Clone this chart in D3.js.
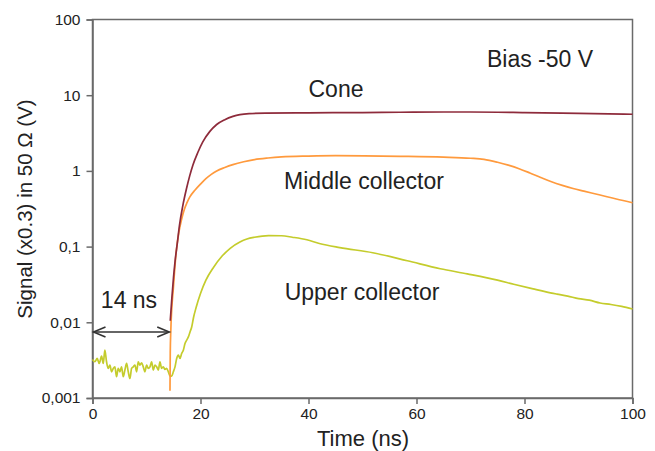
<!DOCTYPE html>
<html>
<head>
<meta charset="utf-8">
<script src="https://cdn.jsdelivr.net/npm/d3@7"></script>
<style>
  html, body { margin: 0; padding: 0; background: #fff; }
  svg text { font-family: "Liberation Sans", Arial, sans-serif; fill: #222; }
</style>
</head>
<body>
<svg id="chart" width="655" height="451"></svg>
<script>
// ---- data ----
const xTicks = [0, 20, 40, 60, 80, 100];
const yTicks = [0.001, 0.01, 0.1, 1, 10, 100];
const yTickLabels = ["0,001", "0,01", "0,1", "1", "10", "100"];

// Cone (time ns, signal V)
const coneT = [14.4, 14.7, 15.0, 15.3, 15.7, 16.1, 16.7, 17.4, 18.0, 18.6, 19.5, 20.4, 21.7, 23.0, 24.5, 26.0, 27.3, 29.0, 32.0, 40.0, 50.0, 57.0, 65.0, 70.0, 80.0, 90.0, 100.0];
const coneV = [0.0105, 0.021, 0.039, 0.065, 0.11, 0.19, 0.34, 0.58, 0.86, 1.2, 1.75, 2.4, 3.3, 4.1, 4.75, 5.25, 5.55, 5.72, 5.8, 5.85, 5.9, 5.95, 6.0, 6.0, 5.9, 5.75, 5.6];

// Middle collector
const middleT = [14.35, 14.4, 14.5, 15.0, 15.5, 16.0, 16.5, 17.0, 17.5, 18.0, 19.0, 20.0, 21.0, 22.0, 23.0, 24.5, 26.0, 28.0, 30.0, 32.5, 35.0, 40.0, 45.0, 57.0, 65.0, 70.0, 72.5, 75.0, 77.0, 79.0, 81.0, 83.0, 85.0, 87.0, 89.0, 91.0, 94.0, 97.0, 100.0];
const middleV = [0.00125, 0.004, 0.0077, 0.03, 0.085, 0.155, 0.23, 0.31, 0.38, 0.45, 0.56, 0.67, 0.79, 0.90, 1.0, 1.11, 1.21, 1.32, 1.41, 1.48, 1.53, 1.57, 1.59, 1.56, 1.52, 1.47, 1.42, 1.3, 1.19, 1.07, 0.94, 0.82, 0.72, 0.645, 0.585, 0.54, 0.48, 0.425, 0.38];

// Upper collector
const upperT = [0.00, 0.44, 0.87, 1.24, 1.68, 1.99, 2.29, 2.60, 2.91, 3.22, 3.53, 3.84, 4.15, 4.45, 4.76, 5.07, 5.38, 5.69, 6.00, 6.31, 6.62, 6.93, 7.24, 7.55, 7.86, 8.17, 8.47, 8.78, 9.09, 9.40, 9.71, 10.02, 10.33, 10.64, 10.95, 11.26, 11.57, 11.88, 12.19, 12.49, 12.80, 13.11, 13.42, 13.73, 14.04, 14.35, 14.66, 14.97, 15.28, 15.59, 15.90, 16.20, 16.51, 16.82, 17.13, 17.44, 17.75, 18.06, 18.37, 18.7, 19.2, 20.0, 21.0, 22.4, 24.0, 25.5, 27.3, 28.6, 30.0, 32.6, 35.0, 37.0, 39.7, 42.0, 45.8, 51.9, 58.3, 64.4, 69.4, 75.0, 78.0, 81.6, 84.0, 86.0, 88.0, 90.0, 92.0, 94.0, 96.0, 98.0, 100.0];
const upperV = [0.00323, 0.00301, 0.00333, 0.00286, 0.00357, 0.00286, 0.00428, 0.00301, 0.00246, 0.00272, 0.00222, 0.00246, 0.00258, 0.00191, 0.00246, 0.00222, 0.00258, 0.00191, 0.00234, 0.00286, 0.00222, 0.00181, 0.00246, 0.00258, 0.00272, 0.00222, 0.00301, 0.00272, 0.00292, 0.00258, 0.00222, 0.00272, 0.00246, 0.00258, 0.00301, 0.00234, 0.00272, 0.00258, 0.00234, 0.00301, 0.00246, 0.00258, 0.00238, 0.00246, 0.00222, 0.00195, 0.00195, 0.00222, 0.00258, 0.00333, 0.00368, 0.00333, 0.00387, 0.00428, 0.00524, 0.0058, 0.00641, 0.00746, 0.00868, 0.0115, 0.0158, 0.024, 0.036, 0.053, 0.075, 0.095, 0.115, 0.126, 0.133, 0.14, 0.139, 0.133, 0.123, 0.11, 0.097, 0.083, 0.065, 0.051, 0.0436, 0.036, 0.0318, 0.0276, 0.0252, 0.0236, 0.0222, 0.0205, 0.0196, 0.018, 0.0172, 0.0162, 0.015];

const annotations = [
  { text: "Bias -50 V", x: 540, y: 67 },
  { text: "Cone", x: 336, y: 97 },
  { text: "Middle collector", x: 364, y: 189 },
  { text: "Upper collector", x: 362, y: 300 },
  { text: "14 ns", x: 129, y: 308 }
];

// ---- drawing ----
const svg = d3.select("#chart");
const mLeft = 92.5, mRight = 632.5, mTop = 19.5, mBottom = 398;
const x = d3.scaleLinear().domain([0, 100]).range([mLeft, mRight]);
const y = d3.scaleLog().domain([0.001, 100]).range([mBottom, mTop]);

const axisColor = "#6a6a6a";

// frame
svg.append("rect")
  .attr("x", mLeft).attr("y", mTop)
  .attr("width", mRight - mLeft).attr("height", mBottom - mTop)
  .attr("fill", "none").attr("stroke", axisColor).attr("stroke-width", 1.5);

// x axis
const xAxis = d3.axisBottom(x).tickValues(xTicks).tickSize(6).tickPadding(4).tickFormat(d3.format("d"));
const gx = svg.append("g").attr("transform", `translate(0,${mBottom})`).call(xAxis);
gx.attr("font-family", null).attr("font-size", null);
gx.select(".domain").attr("stroke", axisColor).attr("stroke-width", 1.5);
gx.selectAll(".tick line").attr("stroke", axisColor).attr("stroke-width", 1.5);
gx.selectAll(".tick text").attr("font-size", 15.5).style("fill", "#222");

// y axis
const yAxis = d3.axisLeft(y).tickValues(yTicks).tickSize(6).tickPadding(6)
  .tickFormat((d, i) => yTickLabels[i]);
const gy = svg.append("g").attr("transform", `translate(${mLeft},0)`).call(yAxis);
gy.attr("font-family", null).attr("font-size", null);
gy.select(".domain").attr("stroke", axisColor).attr("stroke-width", 1.5);
gy.selectAll(".tick line").attr("stroke", axisColor).attr("stroke-width", 1.5);
gy.selectAll(".tick text").attr("font-size", 15.5).style("fill", "#222");

// axis titles
svg.append("text").attr("x", 363).attr("y", 446)
  .attr("text-anchor", "middle").attr("font-size", 22).text("Time (ns)");
svg.append("text")
  .attr("transform", `translate(32,${209}) rotate(-90)`)
  .attr("text-anchor", "middle").attr("font-size", 20.5).text("Signal (x0.3) in 50 Ω (V)");

// lines
const line = d3.line().curve(d3.curveMonotoneX).x(d => x(d[0])).y(d => y(d[1]));
const series = [
  { t: upperT, v: upperV, color: "#c4cc2c" },
  { t: middleT, v: middleV, color: "#ff9a3d" },
  { t: coneT, v: coneV, color: "#8e2b3b" }
];
series.forEach(s => {
  const pts = s.t.map((t, i) => [t, s.v[i]]);
  svg.append("path").datum(pts).attr("d", line)
    .attr("fill", "none").attr("stroke", s.color).attr("stroke-width", 1.7)
    .attr("stroke-linejoin", "round");
});

// annotations
annotations.forEach(a => {
  svg.append("text").attr("x", a.x).attr("y", a.y)
    .attr("text-anchor", "middle").attr("font-size", 23).text(a.text);
});

// 14 ns double arrow
const ay = 332, ax0 = x(0) + 1, ax1 = x(14.4) - 1;
svg.append("line").attr("x1", ax0).attr("x2", ax1).attr("y1", ay).attr("y2", ay)
  .attr("stroke", "#333").attr("stroke-width", 1.6);
svg.append("path").attr("d", `M${ax0 + 12},${ay - 5} L${ax0},${ay} L${ax0 + 12},${ay + 5}`)
  .attr("fill", "none").attr("stroke", "#333").attr("stroke-width", 1.6);
svg.append("path").attr("d", `M${ax1 - 12},${ay - 5} L${ax1},${ay} L${ax1 - 12},${ay + 5}`)
  .attr("fill", "none").attr("stroke", "#333").attr("stroke-width", 1.6);
</script>
</body>
</html>
